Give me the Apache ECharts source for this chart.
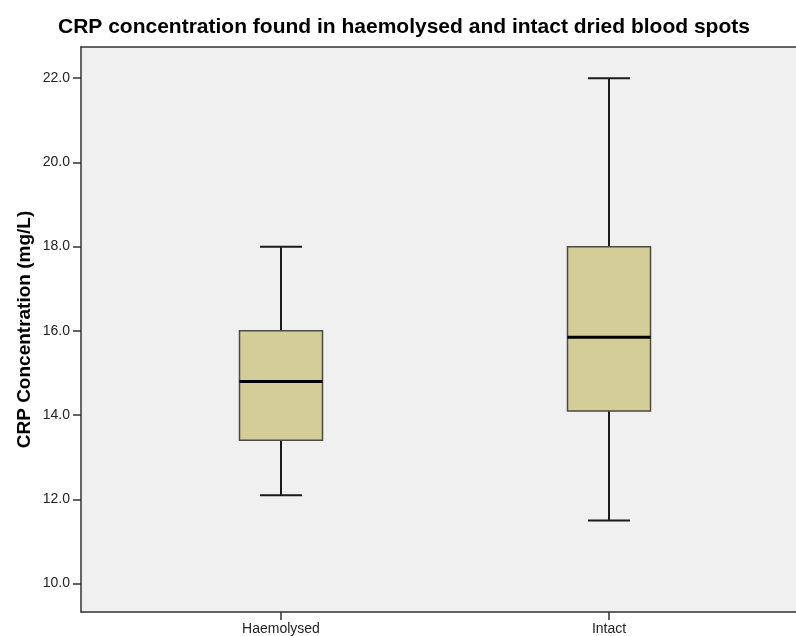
<!DOCTYPE html>
<html>
<head>
<meta charset="utf-8">
<title>CRP concentration</title>
<script src="https://cdn.jsdelivr.net/npm/echarts@6/dist/echarts.min.js"></script>
<style>
  html, body { margin: 0; padding: 0; background: #ffffff; }
  #chart { width: 796px; height: 636px; }
</style>
</head>
<body>
<div id="chart"></div>
<script>
// Box plot summary per sample type
const categories = ['Haemolysed', 'Intact'];
const lowerWhisker = [12.1, 11.5];
const q1 = [13.4, 14.1];
const median = [14.8, 15.85];
const q3 = [16.0, 18.0];
const upperWhisker = [18.0, 22.0];
const yTicks = [10, 12, 14, 16, 18, 20, 22];

const FONT = '"Liberation Sans", Arial, sans-serif';
const FRAME = { color: '#333', width: 1.5 };
const BOX_WIDTH = 83;
const CAP_WIDTH = 42;

const boxData = categories.map((c, i) => [i, lowerWhisker[i], q1[i], median[i], q3[i], upperWhisker[i]]);

function renderBox(params, api) {
  const idx = api.value(0);
  const pLo = api.coord([idx, api.value(1)]);
  const pQ1 = api.coord([idx, api.value(2)]);
  const pMed = api.coord([idx, api.value(3)]);
  const pQ3 = api.coord([idx, api.value(4)]);
  const pHi = api.coord([idx, api.value(5)]);
  const cx = pMed[0];
  const lineStyle = { stroke: '#1a1a1a', lineWidth: 2 };
  return {
    type: 'group',
    children: [
      { type: 'line', shape: { x1: cx, y1: pHi[1], x2: cx, y2: pQ3[1] }, style: lineStyle },
      { type: 'line', shape: { x1: cx, y1: pQ1[1], x2: cx, y2: pLo[1] }, style: lineStyle },
      { type: 'line', shape: { x1: cx - CAP_WIDTH / 2, y1: pHi[1], x2: cx + CAP_WIDTH / 2, y2: pHi[1] }, style: lineStyle },
      { type: 'line', shape: { x1: cx - CAP_WIDTH / 2, y1: pLo[1], x2: cx + CAP_WIDTH / 2, y2: pLo[1] }, style: lineStyle },
      {
        type: 'rect',
        shape: { x: cx - BOX_WIDTH / 2, y: pQ3[1], width: BOX_WIDTH, height: pQ1[1] - pQ3[1] },
        style: { fill: '#d3ce97', stroke: '#4a4a4a', lineWidth: 1.5 }
      },
      { type: 'line', shape: { x1: cx - BOX_WIDTH / 2, y1: pMed[1], x2: cx + BOX_WIDTH / 2, y2: pMed[1] }, style: { stroke: '#000', lineWidth: 3 } }
    ]
  };
}

// Frame axis: only its line is drawn
function frameAxis(extra) {
  return Object.assign({
    type: 'value',
    gridIndex: 1,
    min: 0,
    max: 1,
    axisLine: { show: true, onZero: false, lineStyle: FRAME },
    axisTick: { show: false },
    axisLabel: { show: false },
    splitLine: { show: false }
  }, extra);
}

const chart = echarts.init(document.getElementById('chart'), null, { renderer: 'canvas' });
chart.setOption({
  animation: false,
  backgroundColor: '#ffffff',
  title: {
    text: 'CRP concentration found in haemolysed and intact dried blood spots',
    left: 58,
    top: 17,
    padding: 0,
    textStyle: { fontFamily: FONT, fontSize: 21, fontWeight: 'bold', color: '#000' }
  },
  grid: [
    // plotting area for the boxes
    { left: 117, width: 656, top: 47, bottom: 24, containLabel: false },
    // shaded background panel, open on the right where the canvas ends
    { left: 81, right: 0, top: 47, bottom: 24, show: true, backgroundColor: '#f0f0f0', borderWidth: 0, containLabel: false }
  ],
  xAxis: [
    {
      type: 'category',
      gridIndex: 0,
      data: categories,
      axisLine: { show: false },
      axisTick: { show: true, alignWithLabel: true, length: 8, lineStyle: FRAME },
      axisLabel: { fontFamily: FONT, fontSize: 14, color: '#222', margin: 10 },
      splitLine: { show: false }
    },
    frameAxis({ position: 'bottom' }),
    frameAxis({ position: 'top' })
  ],
  yAxis: [
    {
      type: 'value',
      gridIndex: 0,
      min: 9.325,
      max: 22.74,
      offset: 36,
      name: 'CRP Concentration (mg/L)',
      nameLocation: 'middle',
      nameGap: 47,
      nameMoveOverlap: false,
      nameTextStyle: { fontFamily: FONT, fontSize: 19, fontWeight: 'bold', color: '#000' },
      axisLine: { show: false },
      axisTick: { show: true, length: 8, customValues: yTicks, lineStyle: FRAME },
      axisLabel: {
        customValues: yTicks,
        fontFamily: FONT, fontSize: 14, color: '#222', margin: 11,
        formatter: v => Number(v).toFixed(1)
      },
      splitLine: { show: false }
    },
    frameAxis({ position: 'left' })
  ],
  series: [
    {
      type: 'custom',
      xAxisIndex: 0,
      yAxisIndex: 0,
      renderItem: renderBox,
      dimensions: ['category', 'low', 'q1', 'median', 'q3', 'high'],
      encode: { x: 0, y: [1, 2, 3, 4, 5] },
      data: boxData,
      z: 5
    }
  ]
});
</script>
</body>
</html>
